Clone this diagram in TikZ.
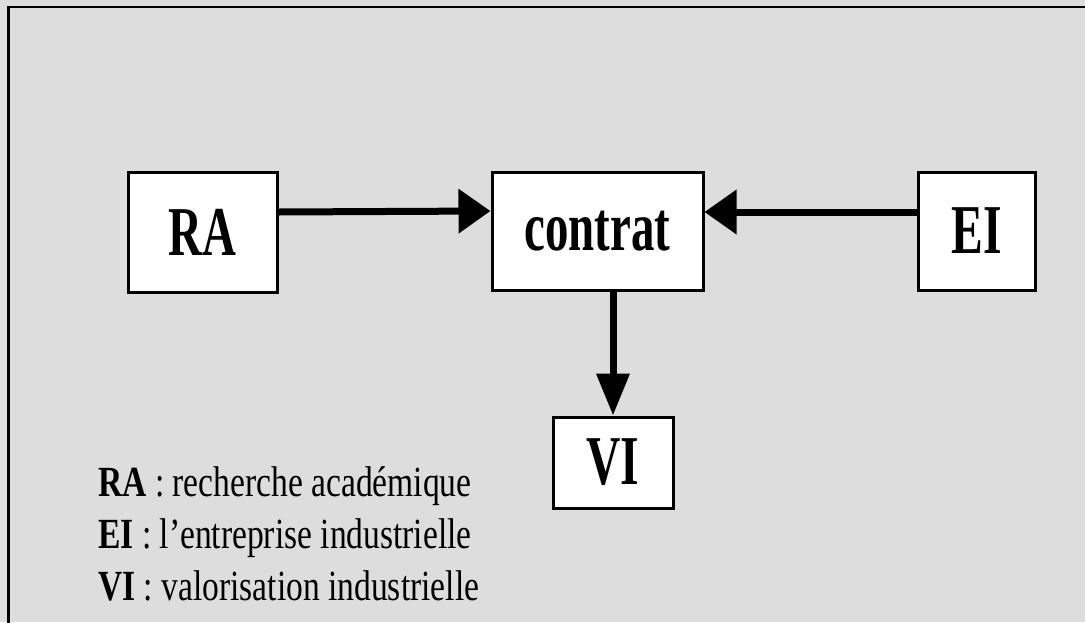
\documentclass[tikz,border=0pt]{standalone}
\usepackage{fontspec}
\setmainfont{Liberation Serif}
\usetikzlibrary{arrows.meta}
\definecolor{panelgray}{HTML}{DDDDDD}
\tikzset{
  box/.style={draw=black, line width=3pt, fill=white, inner sep=0pt},
  boxtext/.style={font=\fontsize{70}{70}\selectfont\bfseries},
  flow/.style={line width=7pt, -{Triangle[length=32pt, width=43pt]}},
  flowdown/.style={line width=7pt, -{Triangle[length=42pt, width=32pt]}},
  legend/.style={anchor=base west, inner sep=0pt, font=\fontsize{43}{43}\selectfont}
}
\newcommand{\narrow}[2]{\scalebox{#1}[1]{#2}}
\begin{document}
\begin{tikzpicture}[x=1pt, y=-1pt]
  % page and frame
  \fill[panelgray] (0,0) rectangle (1085,622);
  \useasboundingbox (0,0) rectangle (1085,622);
  \draw[line width=2.5pt] (8.5,1100) -- (8.5,7) -- (1500,7);

  % boxes
  \node[box, minimum width=149pt, minimum height=120pt, boxtext] (RA) at (202.5,232) {\narrow{0.67}{RA}};
  \node[box, minimum width=211pt, minimum height=118pt, boxtext] (contrat) at (597.5,231) {\narrow{0.67}{contrat}};
  \node[box, minimum width=117pt, minimum height=118pt, boxtext] (EI) at (976.5,231) {\narrow{0.68}{EI}};
  \node[box, minimum width=120pt, minimum height=91pt, boxtext] (VI) at (613,462.5) {\narrow{0.68}{VI}};

  % connectors
  \draw[flow] ([yshift=20pt]RA.east) -- ([yshift=20pt]contrat.west);
  \draw[flow] ([yshift=19pt]EI.west) -- ([yshift=19pt]contrat.east);
  \draw[flowdown] (contrat.south -| VI.north) -- (VI.north);

  % legend
  \node[legend] (legRA) at (98,496) {\narrow{0.78}{\textbf{RA} : recherche académique}};
  \node[legend] (legEI) at (98,548) {\narrow{0.78}{\textbf{EI} : l’entreprise industrielle}};
  \node[legend] (legVI) at (98,600) {\narrow{0.78}{\textbf{VI} : valorisation industrielle}};
\end{tikzpicture}
\end{document}
